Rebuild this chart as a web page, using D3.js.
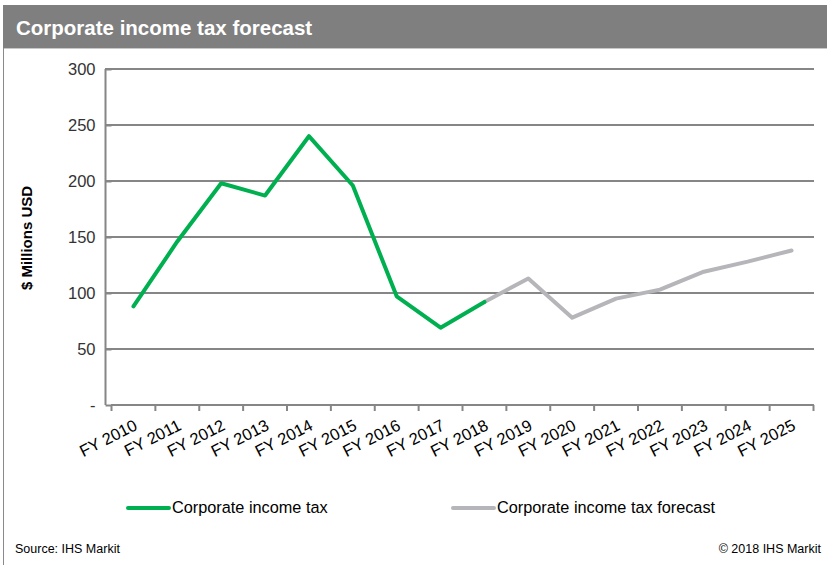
<!DOCTYPE html>
<html><head><meta charset="utf-8">
<script src="https://cdn.jsdelivr.net/npm/d3@7"></script>
<style>
body{margin:0;background:#fff;}
svg{display:block;font-family:"Liberation Sans",Arial,sans-serif;}
</style></head>
<body><svg id="c" width="827" height="565"></svg>
<script>
const categories = ["FY 2010","FY 2011","FY 2012","FY 2013","FY 2014","FY 2015","FY 2016","FY 2017","FY 2018","FY 2019","FY 2020","FY 2021","FY 2022","FY 2023","FY 2024","FY 2025"];
const actualYears = ["FY 2010","FY 2011","FY 2012","FY 2013","FY 2014","FY 2015","FY 2016","FY 2017","FY 2018"];
const actualValues = [88, 146, 198, 187, 240, 196, 97, 69, 92];
const forecastYears = ["FY 2018","FY 2019","FY 2020","FY 2021","FY 2022","FY 2023","FY 2024","FY 2025"];
const forecastValues = [92, 113, 78, 95, 103, 119, 128, 138];
const yTicks = [0, 50, 100, 150, 200, 250, 300];
const seriesNames = ["Corporate income tax", "Corporate income tax forecast"];
const seriesColors = ["#00b050", "#b6b6ba"];

const svg = d3.select("#c");
// title bar
svg.append("rect").attr("x",3).attr("y",5).attr("width",824).attr("height",43).attr("fill","#7f7f7f");
svg.append("line").attr("x1",3).attr("x2",827).attr("y1",48.5).attr("y2",48.5).attr("stroke","#c8c8c8").attr("stroke-width",1);
svg.append("line").attr("x1",3.5).attr("x2",3.5).attr("y1",48).attr("y2",565).attr("stroke","#8a8a8a").attr("stroke-width",1);
svg.append("text").attr("x",16).attr("y",35).attr("fill","#fff").attr("font-weight","bold").attr("font-size",20.5).text("Corporate income tax forecast");

const x = d3.scaleBand().domain(categories).range([111.5, 813.5]);
const y = d3.scaleLinear().domain([0,300]).range([405, 69]);
const cx = d => x(d) + x.bandwidth()/2;

// gridlines
const g = svg.append("g");
g.selectAll("line.grid").data(yTicks.slice(1)).join("line").attr("class","grid")
  .attr("x1",105).attr("x2",814).attr("y1",d=>y(d)).attr("y2",d=>y(d))
  .attr("stroke","#868686").attr("stroke-width",2);
// y axis
const yAxis = d3.axisLeft(y).tickValues(yTicks).tickSize(6).tickPadding(10).tickFormat(d=>d===0?"-":d);
const ya = svg.append("g").attr("transform","translate(111.5,0)").call(yAxis);
ya.select(".domain").attr("stroke","#868686").attr("stroke-width",2);
ya.selectAll(".tick line").attr("stroke","#868686").attr("stroke-width",2);
ya.selectAll(".tick text").attr("font-size",16.5).attr("fill","#333").attr("font-family","Liberation Sans, Arial, sans-serif").attr("dy","0.35em");
ya.select(".domain").attr("d","M-6,69V405");

// x axis
const xa = svg.append("g").attr("transform","translate(0,405)");
xa.append("line").attr("x1",111).attr("x2",814).attr("y1",0).attr("y2",0).attr("stroke","#868686").attr("stroke-width",2);
const bounds = categories.map(c=>x(c)).concat([x.range()[1]]);
xa.selectAll("line.t").data(bounds).join("line").attr("class","t")
  .attr("x1",d=>d).attr("x2",d=>d).attr("y1",0).attr("y2",6).attr("stroke","#868686").attr("stroke-width",2);
xa.selectAll("text").data(categories).join("text")
  .attr("transform",d=>`translate(${cx(d)+5},${24}) rotate(-27)`)
  .attr("text-anchor","end").attr("font-size",16.5).attr("fill","#000").text(d=>d);

// y title
svg.append("text").attr("transform","translate(32,238) rotate(-90)").attr("text-anchor","middle")
  .attr("font-weight","bold").attr("font-size",15).text("$ Millions  USD");

const line = d3.line().x(d=>cx(d[0])).y(d=>y(d[1]));
svg.append("path").datum(forecastYears.map((c,i)=>[c,forecastValues[i]]))
  .attr("d",line).attr("fill","none").attr("stroke",seriesColors[1]).attr("stroke-width",4).attr("stroke-linejoin","round").attr("stroke-linecap","round");
svg.append("path").datum(actualYears.map((c,i)=>[c,actualValues[i]]))
  .attr("d",line).attr("fill","none").attr("stroke",seriesColors[0]).attr("stroke-width",4).attr("stroke-linejoin","round").attr("stroke-linecap","round");

// legend
const legX = [128, 453];
seriesNames.forEach((n,i)=>{
  svg.append("line").attr("x1",legX[i]).attr("x2",legX[i]+41).attr("y1",508).attr("y2",508)
    .attr("stroke",seriesColors[i]).attr("stroke-width",4).attr("stroke-linecap","round");
  svg.append("text").attr("x",legX[i]+44).attr("y",513).attr("font-size",16.3).attr("fill","#000").text(n);
});

// footer
svg.append("text").attr("x",15).attr("y",553).attr("font-size",12.5).attr("fill","#000").text("Source: IHS Markit");
svg.append("text").attr("x",821).attr("y",553).attr("text-anchor","end").attr("font-size",12.5).attr("fill","#000").text("© 2018 IHS Markit");
</script></body></html>
